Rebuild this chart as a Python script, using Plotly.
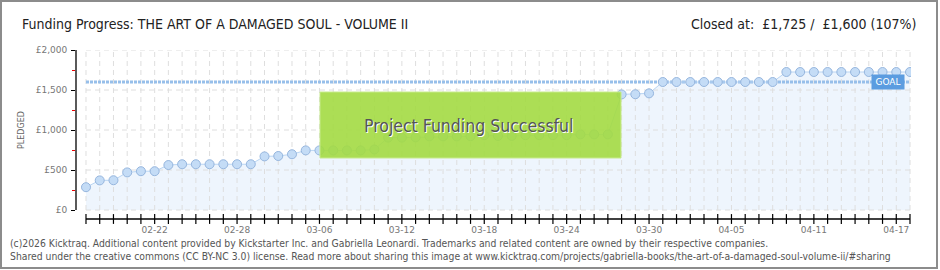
import plotly.graph_objects as go

# ---- data ----
dates = ["02-17","02-18","02-19","02-20","02-21","02-22","02-23","02-24","02-25","02-26",
         "02-27","02-28","03-01","03-02","03-03","03-04","03-05","03-06","03-07","03-08",
         "03-09","03-10","03-11","03-12","03-13","03-14","03-15","03-16","03-17","03-18",
         "03-19","03-20","03-21","03-22","03-23","03-24","03-25","03-26","03-27","03-28",
         "03-29","03-30","03-31","04-01","04-02","04-03","04-04","04-05","04-06","04-07",
         "04-08","04-09","04-10","04-11","04-12","04-13","04-14","04-15","04-16","04-17",
         "04-18"]
pledged = [285, 370, 372, 470, 485, 485, 562, 572, 572, 572,
           572, 572, 572, 670, 675, 697, 745, 745, 745, 745,
           745, 757, 905, 905, 908, 920, 920, 920, 922, 935,
           925, 926, 935, 935, 935, 935, 945, 945, 945, 1445,
           1447, 1458, 1600, 1600, 1600, 1600, 1600, 1600, 1600, 1600,
           1600, 1725, 1725, 1725, 1725, 1725, 1725, 1725, 1725, 1725,
           1725]
goal = 1600
label_dates = ["02-22","02-28","03-06","03-12","03-18","03-24","03-30","04-05","04-11","04-17"]
y_ticks = [0, 500, 1000, 1500, 2000]
y_ticklabels = ["£0", "£500", "£1,000", "£1,500", "£2,000"]
y_minor = [250, 750, 1250, 1750]

idx = list(range(len(dates)))
label_idx = [dates.index(d) for d in label_dates]
n_last = idx[-1]

# pixel geometry
W, H = 940, 270
L, R, T, B = 76, 911, 50, 219
px_day = 13.75
x0_px = 86
xr = [(L - x0_px) / px_day, n_last + (R - 910) / px_day]
px_per = 160 / 2000
yr = [-(B - 210) / px_per, 2000]

def xp(px):
    return (px - L) / (R - L)
def yp(py):
    return (B - py) / (B - T)

fig = go.Figure()

# fill under line
fig.add_trace(go.Scatter(x=idx, y=pledged, mode="lines", fill="tozeroy",
                         fillcolor="#eef5fd", line=dict(width=0, color="rgba(0,0,0,0)"),
                         hoverinfo="skip", showlegend=False))

# grid lines
gx, gy = [], []
for i in idx:
    gx += [i, i, None]
    gy += [0, 2000, None]
fig.add_trace(go.Scatter(x=gx, y=gy, mode="lines",
                         line=dict(color="#dedede", width=1, dash="5px,4px"),
                         hoverinfo="skip", showlegend=False))
hx, hy = [], []
for v in y_ticks:
    hx += [0, n_last, None]
    hy += [v, v, None]
fig.add_trace(go.Scatter(x=hx, y=hy, mode="lines",
                         line=dict(color="#dedede", width=1, dash="5px,4px"),
                         hoverinfo="skip", showlegend=False))

# goal line
fig.add_trace(go.Scatter(x=[0, n_last], y=[goal, goal], mode="lines",
                         line=dict(color="#97bfea", width=3, dash="3px,1px"),
                         hoverinfo="skip", showlegend=False))

# pledged line + markers
fig.add_trace(go.Scatter(x=idx, y=pledged, mode="lines+markers",
                         line=dict(color="#b9d5f3", width=1),
                         marker=dict(size=9, color="#c4dcf6",
                                     line=dict(color="#96b6de", width=1)),
                         hoverinfo="skip", showlegend=False))

# x-axis ticks
fig.add_trace(go.Scatter(x=idx, y=[yr[0]] * len(idx), mode="markers",
                         marker=dict(symbol="line-ns", size=7,
                                     line=dict(color="#000", width=1.2)),
                         cliponaxis=False, hoverinfo="skip", showlegend=False))

shapes = [
    dict(type="line", xref="paper", yref="y", x0=0, x1=0, y0=0, y1=2000,
         line=dict(color="#000", width=1.3), layer="above"),
    dict(type="line", xref="x", yref="paper", x0=0, x1=n_last, y0=0, y1=0,
         line=dict(color="#000", width=1.3), layer="above"),
    dict(type="rect", xref="paper", yref="paper",
         x0=xp(320), x1=xp(621), y0=yp(158), y1=yp(92),
         fillcolor="rgba(163,218,66,0.9)", line=dict(color="#c6ea8c", width=1),
         layer="above"),
    dict(type="rect", xref="paper", yref="paper",
         x0=xp(1), x1=xp(937), y0=yp(268), y1=yp(1),
         fillcolor="rgba(0,0,0,0)", line=dict(color="#8c8c8c", width=2),
         layer="above"),
]

cond = "Liberation Sans Narrow, DejaVu Sans Condensed, Roboto Condensed, Arial Narrow, sans-serif"
annotations = [
    dict(text="Funding Progress: THE ART OF A DAMAGED SOUL - VOLUME II",
         xref="paper", yref="paper", x=xp(20), y=yp(24), xanchor="left", yanchor="middle",
         showarrow=False, font=dict(family=cond, size=14, color="#222")),
    dict(text="Closed at:  £1,725 /  £1,600 (107%)",
         xref="paper", yref="paper", x=xp(918), y=yp(24), xanchor="right", yanchor="middle",
         showarrow=False, font=dict(family=cond, size=14, color="#222")),
    dict(text="Project Funding Successful",
         xref="paper", yref="paper", x=xp(468), y=yp(126), xanchor="center", yanchor="middle",
         showarrow=False,
         font=dict(family=cond, size=17.5, color="#555", shadow="1px 1px 0px #ffffff")),
    dict(text="GOAL", xref="paper", yref="paper", x=xp(888), y=yp(82),
         xanchor="center", yanchor="middle", showarrow=False,
         bgcolor="#5b9ce0", borderpad=2, width=28,
         font=dict(family="DejaVu Sans", size=9, color="#fff")),
    dict(text="PLEDGED", xref="paper", yref="paper", x=xp(21), y=yp(130),
         xanchor="center", yanchor="middle", showarrow=False, textangle=-90,
         font=dict(family="DejaVu Sans", size=8, color="#666")),
    dict(text="(c)2026 Kicktraq. Additional content provided by Kickstarter Inc. and Gabriella Leonardi. "
              "Trademarks and related content are owned by their respective companies.",
         xref="paper", yref="paper", x=xp(8), y=yp(243), xanchor="left", yanchor="middle",
         showarrow=False, font=dict(family="DejaVu Sans Condensed, DejaVu Sans", size=10.3, color="#555")),
    dict(text="Shared under the creative commons (CC BY-NC 3.0) license. Read more about sharing this image at "
              "www.kicktraq.com/projects/gabriella-books/the-art-of-a-damaged-soul-volume-ii/#sharing",
         xref="paper", yref="paper", x=xp(8), y=yp(256), xanchor="left", yanchor="middle",
         showarrow=False, font=dict(family="DejaVu Sans Condensed, DejaVu Sans", size=10.3, color="#555")),
]

fig.update_layout(
    width=W, height=H, autosize=False,
    margin=dict(l=L, r=W - R, t=T, b=H - B),
    paper_bgcolor="#fff", plot_bgcolor="rgba(0,0,0,0)",
    showlegend=False,
    shapes=shapes, annotations=annotations,
    xaxis=dict(range=xr, showgrid=False, zeroline=False, showline=False,
               tickmode="array", tickvals=label_idx, ticktext=label_dates,
               ticks="", tickfont=dict(family="DejaVu Sans", size=9, color="#777"),
               ticklabelstandoff=4, fixedrange=True),
    yaxis=dict(range=yr, showgrid=False, zeroline=False, showline=False,
               tickmode="array", tickvals=y_ticks, ticktext=y_ticklabels,
               ticks="outside", ticklen=4, tickcolor="#000", tickwidth=1.3,
               tickfont=dict(family="DejaVu Sans", size=9, color="#777"),
               ticklabelstandoff=2,
               minor=dict(tickmode="array", tickvals=y_minor, ticks="outside",
                          ticklen=3, tickcolor="#e00", tickwidth=1),
               fixedrange=True),
)

fig.write_html("out.html")
